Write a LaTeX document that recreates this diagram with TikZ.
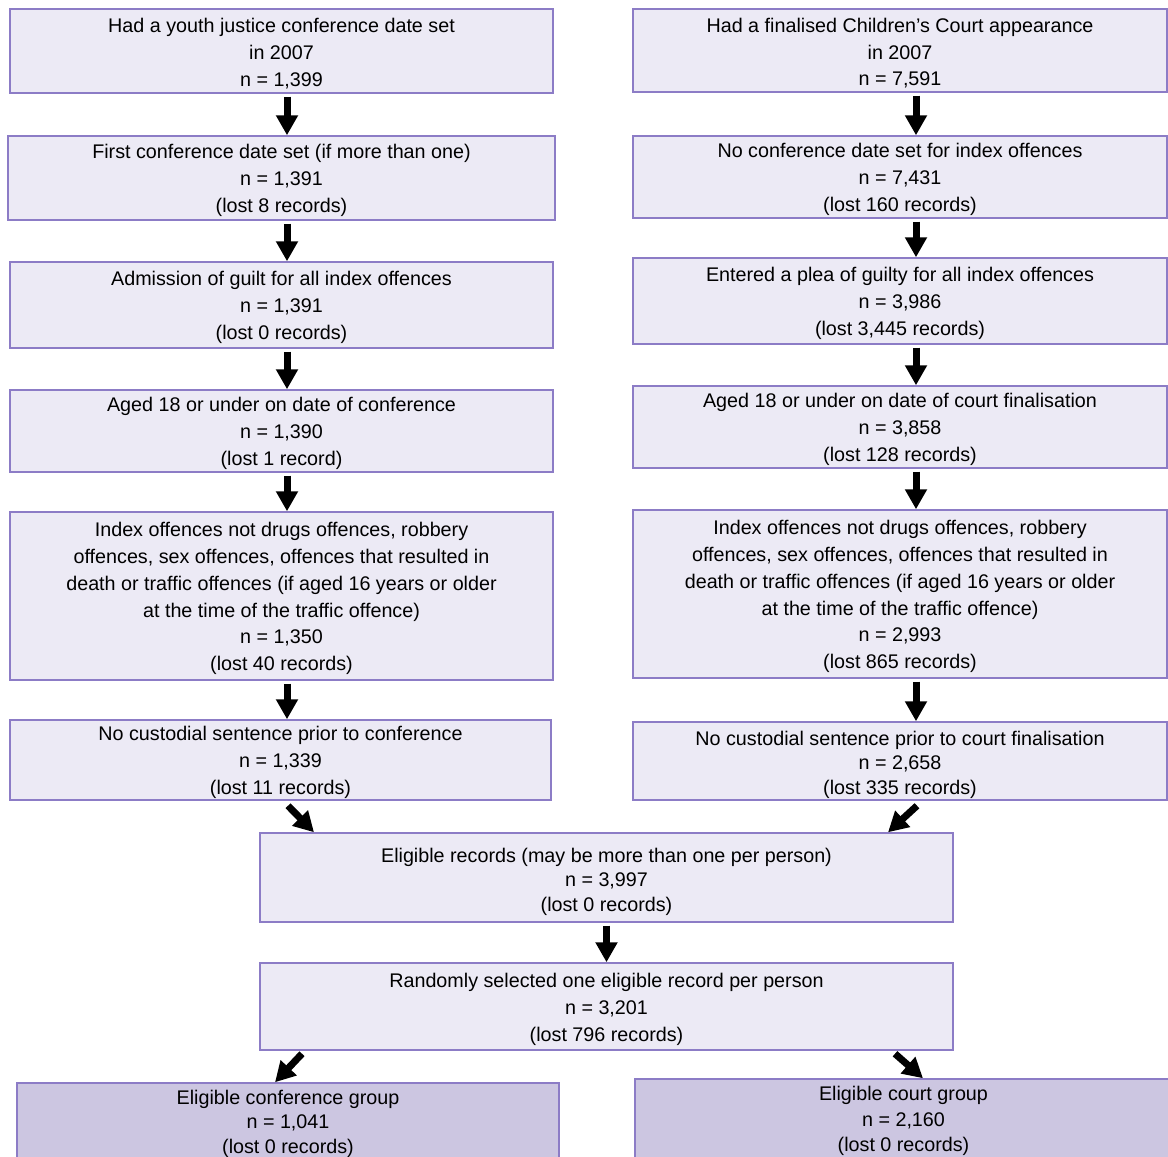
\documentclass[tikz,border=0pt]{standalone}
\usepackage{fontspec}
\setmainfont{Liberation Sans}
\usetikzlibrary{arrows.meta,calc}
\definecolor{boxfill}{HTML}{ECEAF5}
\definecolor{boxline}{HTML}{8C7CC6}
\definecolor{grpfill}{HTML}{CCC6E1}
% #1 text options, #2 box style, #3-#6 corners in px, #7 name, #8 text
\newcommand{\mybox}[8][]{%
  \node[#2,minimum width={(#5-#3)*0.75pt},minimum height={(#6-#4)*0.75pt}] (#7) at ({(#3+#5)/2},{(#4+#6)/2}) {};
  \node[txt,#1] (#7-t) at (#7.center) {#8};}
\begin{document}
\begin{tikzpicture}[x=0.75pt,y=-0.75pt,
  box/.style={draw=boxline,fill=boxfill,line width=1.1pt,inner sep=0pt},
  grp/.style={box,fill=grpfill},
  txt/.style={inner sep=0pt,align=center,yshift=-2pt,font=\fontsize{14.8}{20.1}\selectfont},
  arr/.style={line width=5.25pt,-{Triangle[width=15.75pt,length=15pt]}}]
\useasboundingbox (0,0) rectangle (1168,1157);
\clip (0,0) rectangle (1168,1157);
% left column
\mybox{box}{10}{9}{553}{93}{B1}{Had a youth justice conference date set\\in 2007\\n = 1,399}
\mybox{box}{8}{136}{555}{220}{B2}{First conference date set (if more than one)\\n = 1,391\\(lost 8 records)}
\mybox{box}{10}{262}{553}{348}{B3}{Admission of guilt for all index offences\\n = 1,391\\(lost 0 records)}
\mybox{box}{10}{390}{553}{472}{B4}{Aged 18 or under on date of conference\\n = 1,390\\(lost 1 record)}
\mybox{box}{10}{512}{553}{680}{B5}{Index offences not drugs offences, robbery\\offences, sex offences, offences that resulted in\\death or traffic offences (if aged 16 years or older\\at the time of the traffic offence)\\n = 1,350\\(lost 40 records)}
\mybox{box}{10}{720}{551}{800}{B6}{No custodial sentence prior to conference\\n = 1,339\\(lost 11 records)}
% right column
\mybox{box}{633}{9}{1167}{92}{C1}{Had a finalised Children’s Court appearance\\in 2007\\n = 7,591}
\mybox{box}{633}{136}{1167}{218}{C2}{No conference date set for index offences\\n = 7,431\\(lost 160 records)}
\mybox{box}{633}{258}{1167}{344}{C3}{Entered a plea of guilty for all index offences\\n = 3,986\\(lost 3,445 records)}
\mybox{box}{633}{386}{1167}{468}{C4}{Aged 18 or under on date of court finalisation\\n = 3,858\\(lost 128 records)}
\mybox{box}{633}{510}{1167}{678}{C5}{Index offences not drugs offences, robbery\\offences, sex offences, offences that resulted in\\death or traffic offences (if aged 16 years or older\\at the time of the traffic offence)\\n = 2,993\\(lost 865 records)}
\mybox[yshift=-0.7pt,font=\fontsize{14.8}{18.4}\selectfont]{box}{633}{722}{1167}{800}{C6}{No custodial sentence prior to court finalisation\\n = 2,658\\(lost 335 records)}
% centre
\mybox[yshift=-1.2pt,font=\fontsize{14.8}{18.2}\selectfont]{box}{260}{833}{953}{922}{E}{Eligible records (may be more than one per person)\\n = 3,997\\(lost 0 records)}
\mybox[font=\fontsize{14.8}{20.4}\selectfont]{box}{260}{963}{953}{1050}{R}{Randomly selected one eligible record per person\\n = 3,201\\(lost 796 records)}
% groups
\mybox[yshift=0.4pt,font=\fontsize{14.8}{18.4}\selectfont]{grp}{17}{1083}{559}{1160}{G1}{Eligible conference group\\n = 1,041\\(lost 0 records)}
\mybox[yshift=0.4pt,font=\fontsize{14.8}{19.0}\selectfont]{grp}{635}{1079}{1172}{1159}{G2}{Eligible court group\\n = 2,160\\(lost 0 records)}
% arrows
\foreach \a/\b in {B1/B2,B2/B3,B3/B4,B4/B5,B5/B6}
  \draw[arr] ($(\a.south -| 287,0)+(0,3)$) -- (\b.north -| 287,0);
\foreach \a/\b in {C1/C2,C2/C3,C3/C4,C4/C5,C5/C6}
  \draw[arr] ($(\a.south -| 916,0)+(0,3)$) -- (\b.north -| 916,0);
\draw[arr] ($(B6.south -| 288,0)+(0,5)$) -- (E.north -| 314,0);
\draw[arr] ($(C6.south -| 917,0)+(0,5)$) -- (E.north -| 888,0);
\draw[arr] ($(E.south)+(0,3)$) -- (R.north);
\draw[arr] ($(R.south -| 302,0)+(0,3)$) -- (G1.north -| 275,0);
\draw[arr] ($(R.south -| 895,0)+(0,3)$) -- (G2.north -| 923,0);
\end{tikzpicture}
\end{document}
